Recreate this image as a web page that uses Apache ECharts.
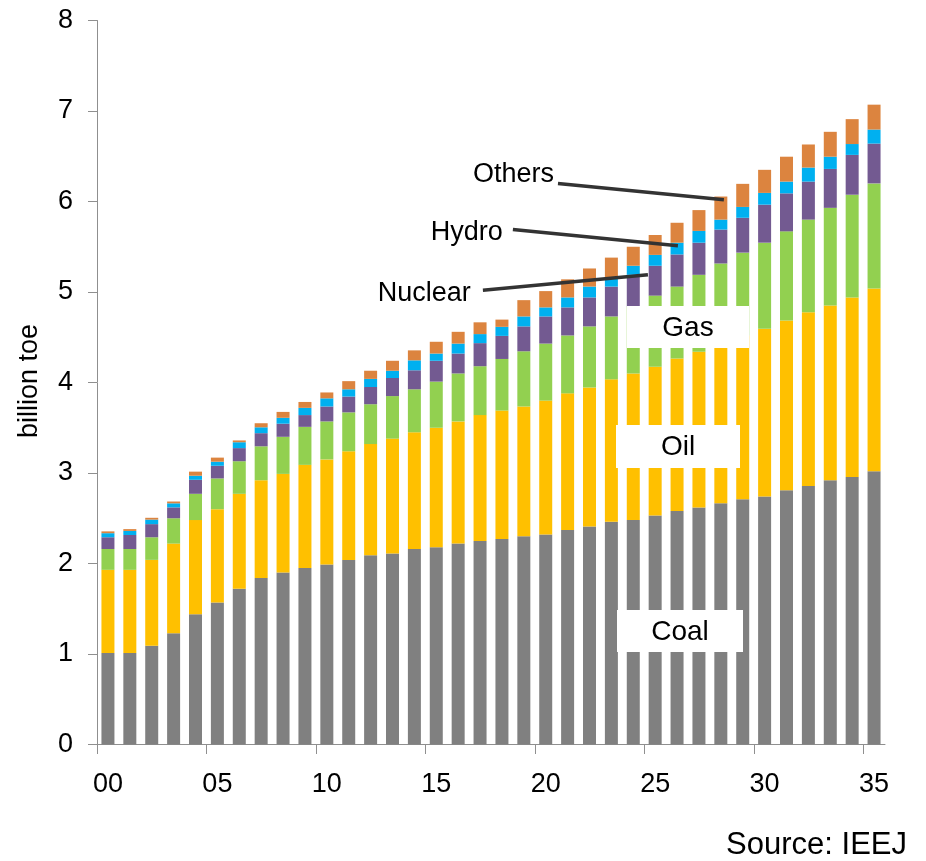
<!DOCTYPE html>
<html>
<head>
<meta charset="utf-8">
<script src="https://cdn.jsdelivr.net/npm/echarts@6/dist/echarts.min.js"></script>
<style>
html,body{margin:0;padding:0;background:#fff;}
#chart{width:926px;height:861px;}
</style>
</head>
<body>
<div id="chart"></div>
<script>
const categories = ['00','01','02','03','04','05','06','07','08','09','10','11','12','13','14','15','16','17','18','19','20','21','22','23','24','25','26','27','28','29','30','31','32','33','34','35'];
const yTicks = [0,1,2,3,4,5,6,7,8];

const coal    = [1.01,1.01,1.09,1.23,1.44,1.57,1.72,1.84,1.90,1.95,1.99,2.04,2.09,2.11,2.16,2.18,2.22,2.25,2.27,2.30,2.32,2.37,2.41,2.46,2.48,2.53,2.58,2.62,2.665,2.71,2.74,2.81,2.855,2.92,2.955,3.02];
const oil     = [0.92,0.92,0.95,0.99,1.04,1.03,1.05,1.08,1.09,1.14,1.16,1.20,1.23,1.27,1.29,1.32,1.35,1.39,1.42,1.435,1.48,1.51,1.535,1.575,1.62,1.645,1.685,1.72,1.765,1.81,1.855,1.875,1.92,1.93,1.985,2.02];
const gas     = [0.23,0.23,0.25,0.28,0.29,0.34,0.36,0.375,0.41,0.42,0.42,0.43,0.44,0.47,0.475,0.51,0.53,0.54,0.57,0.61,0.63,0.64,0.675,0.695,0.74,0.785,0.795,0.85,0.885,0.915,0.95,0.985,1.025,1.08,1.135,1.16];
const nuclear = [0.13,0.155,0.145,0.12,0.155,0.14,0.145,0.145,0.145,0.13,0.165,0.175,0.19,0.20,0.21,0.23,0.22,0.255,0.255,0.275,0.30,0.31,0.32,0.33,0.35,0.33,0.355,0.355,0.375,0.385,0.42,0.42,0.42,0.43,0.44,0.44];
const hydro   = [0.045,0.045,0.05,0.045,0.045,0.045,0.065,0.065,0.065,0.08,0.09,0.08,0.09,0.08,0.11,0.08,0.11,0.10,0.10,0.11,0.10,0.11,0.12,0.10,0.10,0.12,0.13,0.13,0.11,0.12,0.13,0.13,0.155,0.135,0.12,0.155];
const others  = [0.02,0.02,0.02,0.02,0.045,0.045,0.02,0.045,0.065,0.065,0.065,0.09,0.09,0.11,0.11,0.13,0.13,0.13,0.08,0.18,0.18,0.20,0.20,0.22,0.21,0.22,0.22,0.23,0.255,0.255,0.255,0.275,0.255,0.275,0.275,0.275];

const seriesNames = ['Coal','Oil','Gas','Nuclear','Hydro','Others'];
const seriesData = [coal, oil, gas, nuclear, hydro, others];
const colors = ['#808080','#FFC000','#92D050','#735A91','#00B0F0','#DC843F'];

const FONT = '"Liberation Sans", Arial, sans-serif';
const AXIS_COLOR = '#8f8f8f';
const TICK_EVERY = 5;

const chart = echarts.init(document.getElementById('chart'), null, {renderer:'canvas'});

chart.setOption({
  animation: false,
  backgroundColor: '#ffffff',
  grid: {left: 97, right: 41, top: 20.5, bottom: 116.5, containLabel: false},
  xAxis: {
    type: 'category',
    data: categories,
    boundaryGap: true,
    axisLine: {show: true, lineStyle: {color: AXIS_COLOR, width: 1}},
    axisTick: {show: false},
    axisLabel: {interval: TICK_EVERY - 1, fontSize: 27, fontFamily: FONT, color: '#000', margin: 27},
    splitLine: {show: false}
  },
  yAxis: {
    type: 'value',
    min: yTicks[0], max: yTicks[yTicks.length-1], interval: 1,
    axisLine: {show: true, lineStyle: {color: AXIS_COLOR, width: 1}},
    axisTick: {show: true, length: 9, inside: false, lineStyle: {color: AXIS_COLOR}},
    axisLabel: {fontSize: 27, fontFamily: FONT, color: '#000', margin: 24},
    splitLine: {show: false}
  },
  series: seriesNames.map((name, i) => ({
    name: name,
    type: 'bar',
    stack: 'total',
    data: seriesData[i],
    barWidth: 13,
    itemStyle: {color: colors[i]},
    emphasis: {disabled: true}
  }))
});

// helpers to anchor annotations through the axes
function xPix(idx){
  const a = chart.convertToPixel({xAxisIndex:0}, 0);
  const b = chart.convertToPixel({xAxisIndex:0}, 1);
  return a + (b - a) * idx;
}
function yPix(v){ return chart.convertToPixel({yAxisIndex:0}, v); }

// annotation layout: label anchor and line from/to in (category index, value) space
const annotations = [
  {text:'Others',  tx:20.38, tv:6.30, from:[20.56, 6.20], to:[28.14, 6.02]},
  {text:'Hydro',   tx:18.04, tv:5.66, from:[18.50, 5.69], to:[26.04, 5.51]},
  {text:'Nuclear', tx:16.58, tv:4.98, from:[17.13, 5.02], to:[24.67, 5.19]}
];
const boxes = [
  {text:'Gas',  x:627, y:306, w:122, h:42},
  {text:'Oil',  x:616, y:425, w:124, h:43},
  {text:'Coal', x:617, y:610, w:126, h:42}
];

const g = [];
// category ticks at the left boundary of every 5th category (no closing tick at the axis end)
const axisY = Math.round(yPix(0));
categories.forEach((c, i) => {
  if (i % TICK_EVERY !== 0) return;
  const x = Math.round(xPix(i - 0.5)) + 0.5;
  g.push({type:'line', z:50, shape:{x1:x, y1:axisY, x2:x, y2:axisY + 9}, style:{stroke:AXIS_COLOR, lineWidth:1}});
});
annotations.forEach(a => {
  g.push({type:'line', z:100, shape:{x1:xPix(a.from[0]), y1:yPix(a.from[1]), x2:xPix(a.to[0]), y2:yPix(a.to[1])},
          style:{stroke:'#333333', lineWidth:3.5}});
  g.push({type:'text', z:101, x:xPix(a.tx), y:yPix(a.tv),
          style:{text:a.text, fontSize:27, fontFamily:FONT, fill:'#000', align:'right', verticalAlign:'middle'}});
});
boxes.forEach(b => {
  g.push({type:'rect', z:100, shape:{x:b.x, y:b.y, width:b.w, height:b.h}, style:{fill:'#ffffff'}});
  g.push({type:'text', z:101, x:b.x + b.w/2, y:b.y + b.h/2 + 1,
          style:{text:b.text, fontSize:28, fontFamily:FONT, fill:'#000', align:'center', verticalAlign:'middle'}});
});
g.push({type:'text', z:101, x:30, y:381, rotation:Math.PI/2,
        style:{text:'billion toe', fontSize:27, fontFamily:FONT, fill:'#000', align:'center', verticalAlign:'middle'}});
g.push({type:'text', z:101, x:907, y:845,
        style:{text:'Source: IEEJ', fontSize:31, fontFamily:FONT, fill:'#000', align:'right', verticalAlign:'middle'}});

chart.setOption({graphic: g});
</script>
</body>
</html>
